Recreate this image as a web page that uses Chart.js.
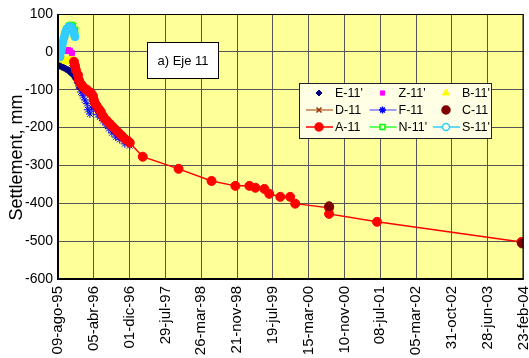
<!DOCTYPE html>
<html>
<head>
  <meta charset="UTF-8">
  <title>Eje 11 - Settlement</title>
  <script src="https://cdn.jsdelivr.net/npm/chart.js"></script>
  <style>
    html, body {
      margin: 0;
      padding: 0;
      background: #fff;
    }
    #wrap {
      width: 529px;
      height: 358px;
    }
  </style>
</head>
<body>
  <div id="wrap"><canvas id="settle"></canvas></div>

  <script>
    // x = days since 09-ago-95, y = settlement (mm)
    const dateLabels = ['09-ago-95', '05-abr-96', '01-dic-96', '29-jul-97', '26-mar-98', '21-nov-98',
      '19-jul-99', '15-mar-00', '10-nov-00', '08-jul-01', '05-mar-02', '31-oct-02', '28-jun-03', '23-feb-04'];
    const yTicks = [100, 0, -100, -200, -300, -400, -500, -600];

    const serieE11 = [[13,-37],[27,-40],[40,-42],[53,-45],[67,-48],[80,-53],[94,-58],[107,-63],[120,-71],[134,-82],[147,-95]];
    const serieZ11 = [[7,-16],[20,-11],[60,2],[67,5],[80,3],[94,-3]];
    const serieB11 = [[13,-13],[27,-16],[40,-21],[53,-24],[67,-26],[80,-21],[87,-13]];
    const serieD11 = [[110,-30],[180,-100],[260,-145],[380,-205],[480,-240]];
    const serieF11 = [[94,-42],[114,-61],[127,-74],[140,-90],[154,-106],[167,-116],[180,-127],[194,-137],[200,-153],
      [214,-164],[227,-148],[240,-137],[254,-153],[267,-166],[281,-172],[301,-182],[321,-193],[341,-203],
      [361,-214],[387,-225],[414,-232],[448,-243],[481,-248]];
    const serieC11 = [[1817,-408],[3110,-506]];
    const serieA11 = [[107,-26],[114,-37],[120,-48],[134,-61],[140,-74],[154,-85],[167,-92],[180,-98],[194,-100],
      [207,-106],[220,-108],[234,-116],[240,-127],[247,-135],[260,-143],[274,-151],[287,-158],[301,-169],
      [314,-177],[327,-182],[347,-190],[367,-198],[387,-206],[407,-214],[428,-222],[448,-230],[468,-235],
      [481,-240],[568,-277],[808,-309],[1029,-341],[1189,-354],[1283,-354],[1323,-359],[1383,-362],
      [1416,-375],[1490,-383],[1556,-383],[1590,-401],[1817,-412],[1817,-428],[2138,-449],[3106,-502]];
    const serieN11 = [[27,8],[33,21],[47,42],[60,58],[73,69],[87,71],[100,69],[114,58],[114,45]];
    const serieS11 = [[13,-13],[20,0],[27,13],[33,26],[40,37],[47,48],[53,55],[60,61],[73,66],[87,66],
      [94,61],[100,55],[107,48],[114,40]];

    const toXY = arr => arr.map(p => ({ x: p[0], y: p[1] }));

    // legend order, draw order goes through "order" (lower = on top)
    const series = [
      { label: "E-11'", data: serieE11, color: '#000080', style: 'rectRot', r: 3.5, line: null, order: 6 },
      { label: "Z-11'", data: serieZ11, color: '#ff00ff', style: 'rect', r: 3.5, line: null, order: 4 },
      { label: "B-11'", data: serieB11, color: '#ffff00', style: 'triangle', r: 4.5, line: null, order: 5 },
      { label: 'D-11', data: serieD11, color: '#993300', style: 'crossRot', r: 4, line: '#c07850', order: 8 },
      { label: 'F-11', data: serieF11, color: '#0000ff', style: 'star', r: 4, line: '#7f7fef', order: 7 },
      { label: 'C-11', data: serieC11, color: '#800000', style: 'circle', r: 4.5, line: null, order: 0 },
      { label: 'A-11', data: serieA11, color: '#ff0000', style: 'circle', r: 4.5, line: '#ff0000', order: 1 },
      { label: "N-11'", data: serieN11, color: '#00ff00', style: 'rect', r: 4, line: '#33ff33', order: 3, open: true },
      { label: "S-11'", data: serieS11, color: '#33ccff', style: 'circle', r: 4, line: '#33ccff', order: 2, open: true }
    ];

    const plotBg = {
      id: 'plotBg',
      beforeDraw(chart) {
        const { ctx, chartArea: a } = chart;
        ctx.save();
        ctx.fillStyle = '#ffff99';
        ctx.fillRect(a.left, a.top, a.right - a.left, a.bottom - a.top);
        ctx.restore();
      },
      afterDraw(chart) {
        const { ctx, chartArea: a } = chart;
        ctx.save();
        ctx.strokeStyle = '#000';
        ctx.lineWidth = 1;
        ctx.strokeRect(a.left + 0.5, a.top + 0.5, a.right - a.left - 1, a.bottom - a.top);
        ctx.lineWidth = 2;
        ctx.beginPath();
        ctx.moveTo(a.left, a.top);
        ctx.lineTo(a.left, a.bottom);
        ctx.lineTo(a.right, a.bottom);
        ctx.stroke();

        // y axis title
        ctx.save();
        ctx.translate(17, (a.top + a.bottom) / 2 + 11);
        ctx.rotate(-Math.PI / 2);
        ctx.fillStyle = '#000';
        ctx.font = '18px "Liberation Sans", Arial, sans-serif';
        ctx.textAlign = 'center';
        ctx.textBaseline = 'middle';
        ctx.fillText('Settlement, mm', 0, 0);
        ctx.restore();

        // title box
        const tx = a.left + 89, ty = a.top + 28;
        ctx.fillStyle = '#fff';
        ctx.fillRect(tx, ty, 71, 36);
        ctx.lineWidth = 1;
        ctx.strokeRect(tx + 0.5, ty + 0.5, 71, 36);
        ctx.fillStyle = '#000';
        ctx.font = '13px "Liberation Sans", Arial, sans-serif';
        ctx.textAlign = 'center';
        ctx.textBaseline = 'middle';
        ctx.fillText('a) Eje 11', tx + 36, ty + 19);

        // legend box
        const lx = a.left + 241, ly = a.top + 69, lw = 192, lh = 55;
        ctx.fillStyle = '#ffffe6';
        ctx.fillRect(lx, ly, lw, lh);
        ctx.strokeStyle = '#222';
        ctx.strokeRect(lx + 0.5, ly + 0.5, lw, lh);
        ctx.font = '12.5px "Liberation Sans", Arial, sans-serif';
        ctx.textAlign = 'left';
        series.forEach((s, i) => {
          const col = i % 3, row = Math.floor(i / 3);
          const cx = lx + 20 + col * 63.5;
          const cy = ly + 10 + row * 17;
          if (s.line) {
            ctx.strokeStyle = s.line;
            ctx.lineWidth = 1.5;
            ctx.beginPath();
            ctx.moveTo(cx - 13, cy);
            ctx.lineTo(cx + 14, cy);
            ctx.stroke();
          }
          ctx.strokeStyle = s.color;
          ctx.fillStyle = s.open ? '#ffffe6' : s.color;
          Chart.helpers.drawPoint(ctx, {
            pointStyle: s.style, radius: s.r - 0.5, borderWidth: 1.2, rotation: 0
          }, cx, cy);
          ctx.fillStyle = '#000';
          ctx.fillText(s.label, cx + 16, cy + 1);
        });
        ctx.restore();
      }
    };

    const ctx = document.getElementById('settle').getContext('2d');
    new Chart(ctx, {
      type: 'scatter',
      data: {
        datasets: series.map(s => ({
          label: s.label,
          data: toXY(s.data),
          order: s.order,
          showLine: !!s.line,
          borderColor: s.line || s.color,
          borderWidth: s.line ? 1.5 : 0,
          pointStyle: s.style,
          pointRadius: s.r,
          pointBackgroundColor: s.color,
          pointBorderColor: s.color,
          pointBorderWidth: 1,
          pointHoverRadius: s.r
        }))
      },
      options: {
        responsive: true,
        maintainAspectRatio: false,
        animation: false,
        layout: { padding: { left: 0, right: 4, top: 14, bottom: 0 } },
        plugins: {
          legend: { display: false },
          tooltip: { enabled: false }
        },
        scales: {
          x: {
            type: 'linear',
            min: 0,
            max: 3120,
            afterBuildTicks: s => { s.ticks = dateLabels.map((l, i) => ({ value: i * 240 })); },
            afterFit: s => { s.height = 79; s.paddingLeft = 0; s.paddingRight = 0; },
            grid: { color: '#555', lineWidth: 1, drawTicks: false },
            border: { display: false },
            ticks: {
              autoSkip: false,
              minRotation: 90,
              maxRotation: 90,
              padding: 7,
              color: '#000',
              font: { family: '"Liberation Sans", Arial, sans-serif', size: 15 },
              callback: v => dateLabels[Math.round(v / 240)]
            }
          },
          y: {
            min: -600,
            max: 100,
            afterBuildTicks: s => { s.ticks = yTicks.map(v => ({ value: v })); },
            afterFit: s => { s.width = 58; },
            grid: { color: '#555', lineWidth: 1, drawTicks: false },
            border: { display: false },
            ticks: {
              padding: 5,
              color: '#000',
              font: { family: '"Liberation Sans", Arial, sans-serif', size: 14 }
            }
          }
        }
      },
      plugins: [plotBg]
    });
  </script>
</body>
</html>
